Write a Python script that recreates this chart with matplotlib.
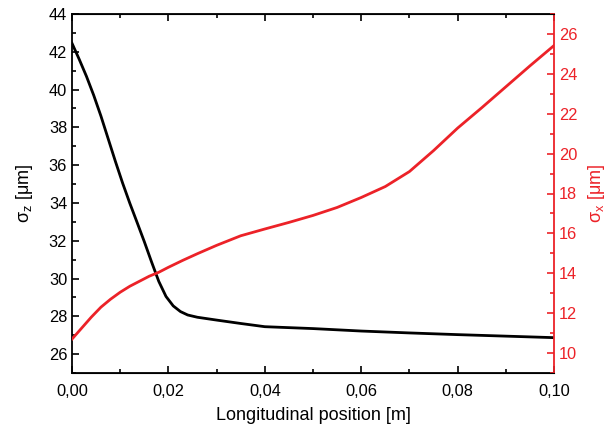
import matplotlib
matplotlib.use('Agg')
import matplotlib.pyplot as plt
from matplotlib.ticker import FuncFormatter, MultipleLocator

# sigma_z (left axis, black)
pos_z = [0.0, 0.0015, 0.003, 0.0045, 0.006, 0.0075, 0.009, 0.0105, 0.012, 0.0135,
         0.015, 0.0165, 0.018, 0.0195, 0.021, 0.0225, 0.024, 0.026, 0.03, 0.035,
         0.04, 0.05, 0.06, 0.07, 0.08, 0.09, 0.10]
sigma_z = [42.45, 41.6, 40.7, 39.7, 38.6, 37.4, 36.2, 35.05, 33.98, 32.97,
           31.95, 30.88, 29.85, 29.05, 28.55, 28.25, 28.07, 27.95, 27.8, 27.62,
           27.45, 27.35, 27.22, 27.12, 27.03, 26.95, 26.87]

# sigma_x (right axis, red)
pos_x = [0.0, 0.002, 0.004, 0.006, 0.008, 0.010, 0.012, 0.014, 0.016, 0.018,
         0.020, 0.023, 0.026, 0.030, 0.035, 0.040, 0.045, 0.050, 0.055, 0.060,
         0.065, 0.070, 0.075, 0.080, 0.085, 0.090, 0.095, 0.100]
sigma_x = [10.7, 11.25, 11.8, 12.3, 12.7, 13.05, 13.35, 13.6, 13.85, 14.05,
           14.3, 14.65, 14.98, 15.4, 15.88, 16.22, 16.55, 16.9, 17.3, 17.8,
           18.35, 19.1, 20.15, 21.28, 22.3, 23.35, 24.4, 25.42]

red = '#ec2228'
plt.rcParams['font.family'] = ['Liberation Sans', 'DejaVu Sans']
plt.rcParams['mathtext.fontset'] = 'custom'
plt.rcParams['mathtext.rm'] = 'Liberation Sans'
plt.rcParams['mathtext.it'] = 'Liberation Sans'

fig = plt.figure(figsize=(6.16, 4.30), dpi=100)
ax = fig.add_axes([0.1169, 0.1326, 0.7825, 0.8348])
ax2 = ax.twinx()

ax.plot(pos_z, sigma_z, color='black', lw=2)
ax2.plot(pos_x, sigma_x, color=red, lw=2)

ax.set_xlim(0, 0.10)
ax.set_ylim(25, 44)
ax2.set_ylim(9, 27)

comma = FuncFormatter(lambda v, p: f'{v:.2f}'.replace('.', ','))
ax.xaxis.set_major_locator(MultipleLocator(0.02))
ax.xaxis.set_minor_locator(MultipleLocator(0.01))
ax.xaxis.set_major_formatter(comma)
ax.yaxis.set_major_locator(MultipleLocator(2))
ax.yaxis.set_minor_locator(MultipleLocator(1))
ax2.yaxis.set_major_locator(MultipleLocator(2))
ax2.yaxis.set_minor_locator(MultipleLocator(1))

ax.tick_params(which='both', direction='in', top=True, labelsize=11.8, width=1.2)
ax.tick_params(which='major', length=5)
ax.tick_params(which='minor', length=3)
ax.tick_params(axis='x', pad=8)
ax2.tick_params(which='both', direction='in', colors=red, labelsize=11.8, width=1.2)
ax2.tick_params(which='major', length=5)
ax2.tick_params(which='minor', length=3)

for s in ['left', 'bottom', 'top']:
    ax.spines[s].set_linewidth(1.3)
ax2.spines['right'].set_color(red)
ax2.spines['right'].set_linewidth(1.3)
ax2.spines['left'].set_visible(False)
ax.spines['right'].set_visible(False)

ax.set_xlabel('Longitudinal position [m]', fontsize=13, labelpad=6)
ax.set_ylabel('σ$_z$ [μm]', fontsize=13, labelpad=10)
ax2.set_ylabel('σ$_x$ [μm]', fontsize=13, color=red, rotation=90, labelpad=6)

fig.savefig('out.png', dpi=100)
